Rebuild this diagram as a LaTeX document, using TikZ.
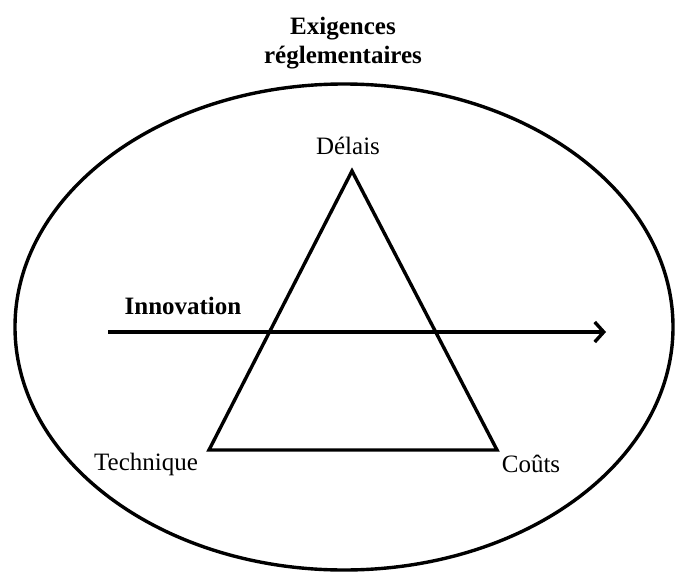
\documentclass[tikz,border=0pt]{standalone}
\usepackage{fontspec}
\setmainfont{Liberation Serif}
\usetikzlibrary{arrows.meta}
\begin{document}
\begin{tikzpicture}[x=1pt,y=-1pt,
  lbl/.style={font=\fontsize{25}{29}\selectfont, inner sep=0pt},
  blbl/.style={font=\fontsize{25}{29}\selectfont\bfseries, inner sep=0pt, align=center},
  thick line/.style={line width=3.4pt}]
\useasboundingbox (0,0) rectangle (682,575);
\draw[thick line] (344,327) ellipse [x radius=329, y radius=243];
\coordinate (A) at (352,171);
\coordinate (B) at (209,450);
\coordinate (C) at (497,450);
\draw[thick line, line join=miter] (A) -- (B) -- (C) -- cycle;
\coordinate (s) at (108,332);
\coordinate (e) at (606,332);
\draw[thick line, -{Straight Barb[length=9pt,width=20pt,line width=3.4pt]}] (s) -- (e);
\node[blbl] (title) at (343,43) {Exigences\\réglementaires};
\node[lbl] (delais) at (348,146) {Délais};
\node[blbl] (innov) at (183,306) {Innovation};
\node[lbl] (tech) at (146,464) {Technique};
\node[lbl] (couts) at (531,464) {Coûts};
\end{tikzpicture}
\end{document}
